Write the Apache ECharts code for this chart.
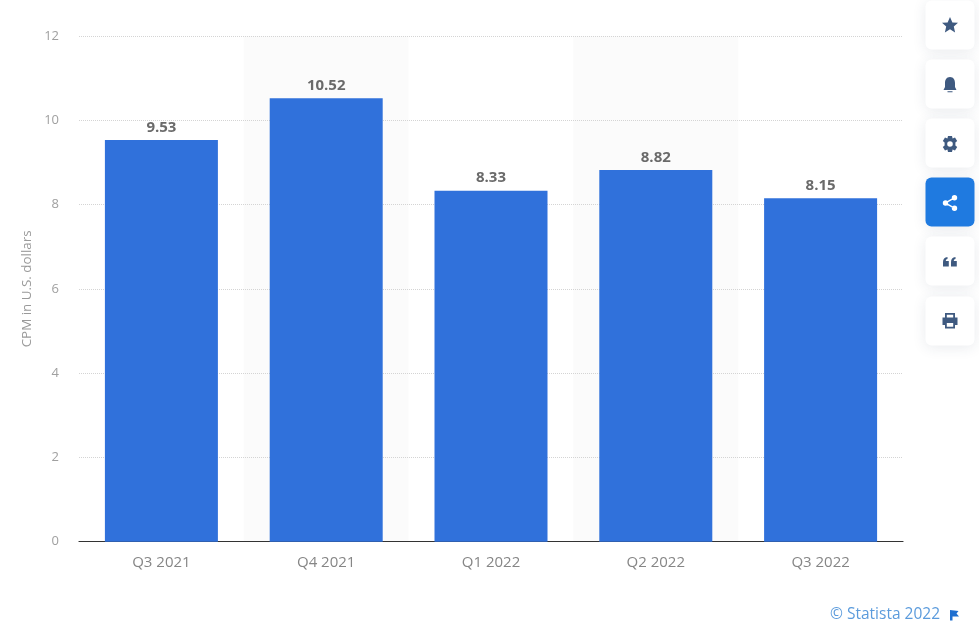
<!DOCTYPE html>
<html><head><meta charset="utf-8">
<style>html,body{margin:0;padding:0;background:#fff}#c{width:979px;height:641px}</style>
<script src="https://cdn.jsdelivr.net/npm/echarts@6/dist/echarts.min.js"></script>
</head><body><div id="c"></div>
<script>
const categories = ['Q3 2021','Q4 2021','Q1 2022','Q2 2022','Q3 2022'];
const values = [9.53,10.52,8.33,8.82,8.15];
const yTicks = {min:0,max:12,interval:2};
const yTitle = 'CPM in U.S. dollars';
const credit = '© Statista 2022';
const F = '"Open Sans", sans-serif';
const ic = '#3f5a80';
function circ(x,y,r){return `M${x},${y-r} A${r},${r} 0 0 1 ${x},${y+r} A${r},${r} 0 0 1 ${x},${y-r} Z `;}
function hole(x,y,r){return `M${x},${y-r} A${r},${r} 0 0 0 ${x},${y+r} A${r},${r} 0 0 0 ${x},${y-r} Z `;}
const buttons = [
 {y:1,  iy:25, d:'M0,-8 L2.4,-2.6 L8,-2.2 L3.8,1.6 L5.1,7.4 L0,4.3 L-5.1,7.4 L-3.8,1.6 L-8,-2.2 L-2.4,-2.6 Z'},
 {y:60, iy:85, d:'M0,-8 C3.5,-8 5,-5 5,-2 L5,2 L6.5,5 L-6.5,5 L-5,2 L-5,-2 C-5,-5 -3.5,-8 0,-8 Z M-2.5,6.2 L2.5,6.2 L2.5,7.2 L-2.5,7.2 Z'},
 {y:119,iy:144,d:'M-2,-8 L2,-8 L2.6,-5.6 L5,-6.6 L7.2,-3 L5.4,-1.4 L5.4,1.4 L7.2,3 L5,6.6 L2.6,5.6 L2,8 L-2,8 L-2.6,5.6 L-5,6.6 L-7.2,3 L-5.4,1.4 L-5.4,-1.4 L-7.2,-3 L-5,-6.6 L-2.6,-5.6 Z '+hole(0,0,2.8)},
 {y:178,iy:203,active:true,d:circ(-4.5,0,2.7)+circ(4.5,-5.2,2.7)+circ(4.5,5.2,2.7)+'M-4.8,-0.7 L4,-5.8 L4.7,-4.6 L-4.1,0.5 Z M-4.1,-0.5 L4.7,4.6 L4,5.8 L-4.8,0.7 Z'},
 {y:237,iy:262,d:'M-7,0 C-7,-3 -5.5,-4.5 -2.5,-5 L-2.5,-3 C-3.6,-2.8 -4.2,-2.2 -4.2,-1 L-1.2,-1 L-1.2,4.5 L-7,4.5 Z M1,0 C1,-3 2.5,-4.5 5.5,-5 L5.5,-3 C4.4,-2.8 3.8,-2.2 3.8,-1 L6.8,-1 L6.8,4.5 L1,4.5 Z'},
 {y:297,iy:321,d:'M-5,-8 L5,-8 L5,-3.5 L7.5,-3.5 L7.5,4 L5,4 L5,7.5 L-5,7.5 L-5,4 L-7.5,4 L-7.5,-3.5 L-5,-3.5 Z M-3.2,-6.2 L-3.2,-3.5 L3.2,-3.5 L3.2,-6.2 Z M-3.2,2 L-3.2,5.7 L3.2,5.7 L3.2,2 Z'}
];
const flag = 'M0,0 L8.5,1 L6.5,3.5 L9,6.5 L2.5,6.5 L2.5,10.5 L0,10.5 Z';
function reg(name,d){ echarts.graphic.registerShape(name, echarts.graphic.extendPath(d,{})); return name; }
const graphic = [];
buttons.forEach((b,i)=>{
  graphic.push({type:'rect',shape:{x:925.5,y:b.y-0.5,width:49,height:49,r:6},
    style:{fill:b.active?'#1f7ae0':'#fff',shadowBlur:14,shadowColor:'rgba(40,60,90,0.10)',shadowOffsetY:2},z:10});
  graphic.push({type:reg('icon'+i,b.d),x:950,y:b.iy,
    style:{fill:b.active?'#fff':ic},z:11});
});
graphic.push({type:'text',x:830,y:607,style:{text:credit,font:'15.5px '+F,fill:'#5b9bdc'},z:5});
graphic.push({type:reg('flagIcon',flag),x:950,y:610,style:{fill:'#1f6fd0'},z:5});
const chart = echarts.init(document.getElementById('c'),null,{renderer:'canvas'});
chart.setOption({
  animation:false,
  backgroundColor:'#fff',
  grid:{left:79,right:76,top:36,bottom:99.3,containLabel:false},
  xAxis:{type:'category',data:categories,z:0,
    axisTick:{show:false},
    axisLine:{lineStyle:{color:'#333',width:1.2}},
    axisLabel:{color:'#868686',fontFamily:F,fontSize:15,margin:14},
    splitArea:{show:true,areaStyle:{color:['rgba(0,0,0,0)','#fbfbfb']}},
    splitLine:{show:false}},
  yAxis:{type:'value',...yTicks,name:yTitle,nameLocation:'middle',nameGap:45,z:1,
    nameTextStyle:{color:'#9a9a9a',fontFamily:F,fontSize:13.4},
    axisLine:{show:false},axisTick:{show:false},
    axisLabel:{color:'#a0a0a0',fontFamily:F,fontSize:13,margin:20,align:'right',padding:[4,0,0,0]},
    splitLine:{showMinLine:false,lineStyle:{color:'#d4d4d4',type:'dotted',width:1}}},
  series:[{type:'bar',data:values,barWidth:113,z:5,
    itemStyle:{color:'#3071db'},
    label:{show:true,position:'top',distance:5,color:'#6a6a6a',fontFamily:F,fontSize:15,fontWeight:'bold',
      formatter:p=>p.value.toFixed(2)}}],
  graphic:graphic
});
</script></body></html>
